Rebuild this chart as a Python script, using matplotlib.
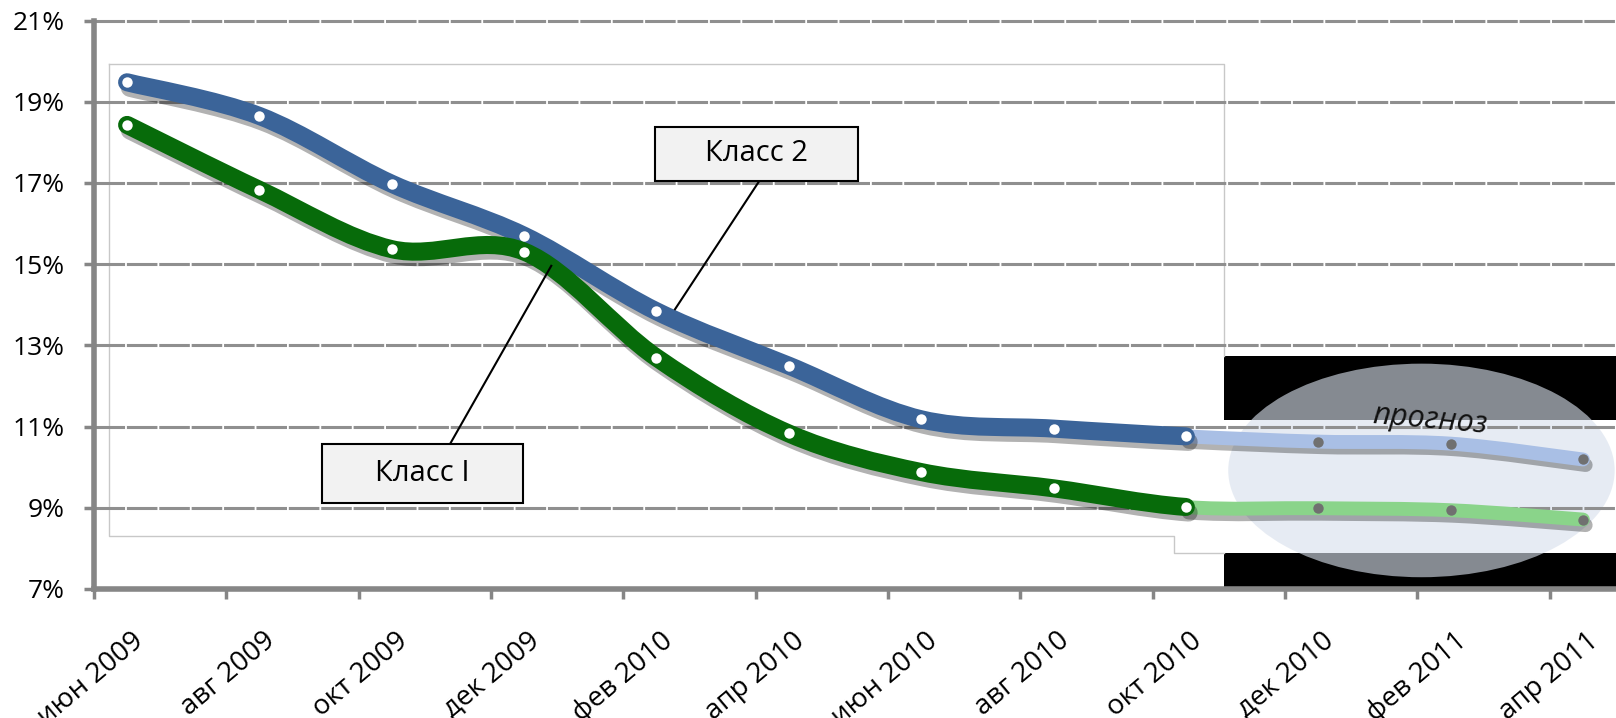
import numpy as np
import matplotlib
matplotlib.use('Agg')
import matplotlib.pyplot as plt
import matplotlib.patheffects as pe
from matplotlib.path import Path
from matplotlib.patches import PathPatch, Rectangle, Ellipse

plt.rcParams['font.family'] = ['Open Sans', 'DejaVu Sans']

# Данные
month_labels = ['июн 2009', 'авг 2009', 'окт 2009', 'дек 2009', 'фев 2010', 'апр 2010',
                'июн 2010', 'авг 2010', 'окт 2010', 'дек 2010', 'фев 2011', 'апр 2011']
class2 = [19.48, 18.65, 16.98, 15.70, 13.84, 12.50, 11.18, 10.95, 10.76, 10.63, 10.58, 10.19]
class1 = [18.43, 16.83, 15.37, 15.31, 12.70, 10.83, 9.88, 9.48, 9.02, 8.99, 8.94, 8.71]
n_fact = 9  # первые 9 точек - факт, остальные - прогноз
y_ticks = [7, 9, 11, 13, 15, 17, 19, 21]

# точки в середине месяца, шаг 2 месяца
x = np.arange(len(month_labels)) * 2 + 0.5


def smooth_path(xs, ys, i0, i1):
    # сглаженная линия как в Excel (Безье через соседние точки)
    pts = np.column_stack([xs, ys])
    n = len(pts)
    verts = [pts[i0]]
    codes = [Path.MOVETO]
    for i in range(i0, i1):
        p0 = pts[i - 1] if i > 0 else pts[i]
        p1 = pts[i]
        p2 = pts[i + 1]
        p3 = pts[i + 2] if i + 2 < n else pts[i + 1]
        verts += [p1 + (p2 - p0) / 6, p2 - (p3 - p1) / 6, p2]
        codes += [Path.CURVE4] * 3
    return Path(verts, codes)


fig = plt.figure(figsize=(16.16, 7.18), dpi=100)
ax = fig.add_axes([94 / 1616, 129 / 718, 1 - 94 / 1616, (589 - 16.5) / 718])
ax.set_xlim(0, 23)
ax.set_ylim(7, 21.1)

# фон области прогноза
ax.add_patch(Rectangle((17.08, 7.0), 6, 5.74, facecolor='black', edgecolor='none', zorder=0.1))
ax.add_patch(Rectangle((17.08, 7.88), 6, 3.28, facecolor='white', edgecolor='none', zorder=0.2))
ax.add_patch(Ellipse((20.06, 9.92), 5.84, 5.26, facecolor='#d8e0ec', edgecolor='none',
                     alpha=0.62, zorder=0.3))

# рамка области построения
ax.plot([0.23, 17.08, 17.08], [19.93, 19.93, 12.74], color='#c8c8c8', lw=1, zorder=0.4)
ax.plot([17.08, 16.32, 16.32, 0.23, 0.23], [7.88, 7.88, 8.31, 8.31, 19.93],
        color='#c8c8c8', lw=1, zorder=0.4)

# сетка
for yv in y_ticks[1:]:
    ax.axhline(yv, color='#8f8f8f', lw=2.2, dashes=(10, 0.6), zorder=0.5)

shadow = [pe.SimpleLineShadow(offset=(2, -4), shadow_color='black', alpha=0.3), pe.Normal()]

series = [(class2, '#3b6499', '#a9bfe5'), (class1, '#076b0a', '#8ad48a')]
for vals, col, col_f in series:
    p_main = smooth_path(x, vals, 0, n_fact - 1)
    p_fore = smooth_path(x, vals, n_fact - 1, len(vals) - 1)
    ax.add_patch(PathPatch(p_fore, fill=False, edgecolor=col_f, lw=10, capstyle='round',
                           joinstyle='round', zorder=2, path_effects=shadow))
    ax.add_patch(PathPatch(p_main, fill=False, edgecolor=col, lw=13, capstyle='round',
                           joinstyle='round', zorder=3, path_effects=shadow))
    ax.plot(x[:n_fact], vals[:n_fact], 'o', color='white', ms=7.5, mec='none', zorder=4)
    ax.plot(x[n_fact:], vals[n_fact:], 'o', color='#707070', ms=7.5, mec='none', zorder=4)

# подписи серий
ax.add_patch(Rectangle((8.48, 17.04), 3.06, 1.35, facecolor='#f2f2f2', edgecolor='black',
                       lw=1.5, zorder=6))
ax.text(10.01, 17.72, 'Класс 2', ha='center', va='center', fontsize=21, zorder=7)
ax.plot([10.05, 8.78], [17.04, 13.89], color='black', lw=1.5, zorder=5)

ax.add_patch(Rectangle((3.44, 9.12), 3.04, 1.45, facecolor='#f2f2f2', edgecolor='black',
                       lw=1.5, zorder=6))
ax.text(4.96, 9.85, 'Класс I', ha='center', va='center', fontsize=21, zorder=7)
ax.plot([5.38, 6.91], [10.57, 14.96], color='black', lw=1.5, zorder=5)

ax.text(20.18, 11.15, 'прогноз', ha='center', va='center', fontsize=22, style='italic',
        rotation=-5, color='#111111', zorder=7)

# оси
for s in ['top', 'right']:
    ax.spines[s].set_visible(False)
for s in ['left', 'bottom']:
    ax.spines[s].set_color('#868686')
    ax.spines[s].set_linewidth(4)
ax.spines['left'].set_bounds(7, 21)

ax.set_yticks(y_ticks)
ax.set_yticklabels([f'{v}%' for v in y_ticks], fontsize=19)
ax.set_xticks(np.arange(0, 23, 2))
ax.set_xticklabels([])
ax.tick_params(axis='both', direction='out', length=7, width=2.5, color='#868686')
ax.tick_params(axis='y', pad=14)

for i, lab in enumerate(month_labels):
    ax.annotate(lab, xy=(2 * i, 7), xycoords='data', xytext=(33, -35),
                textcoords='offset points', rotation=40, rotation_mode='anchor',
                ha='right', va='center', fontsize=20, annotation_clip=False)

fig.savefig('out.png', dpi=100)
